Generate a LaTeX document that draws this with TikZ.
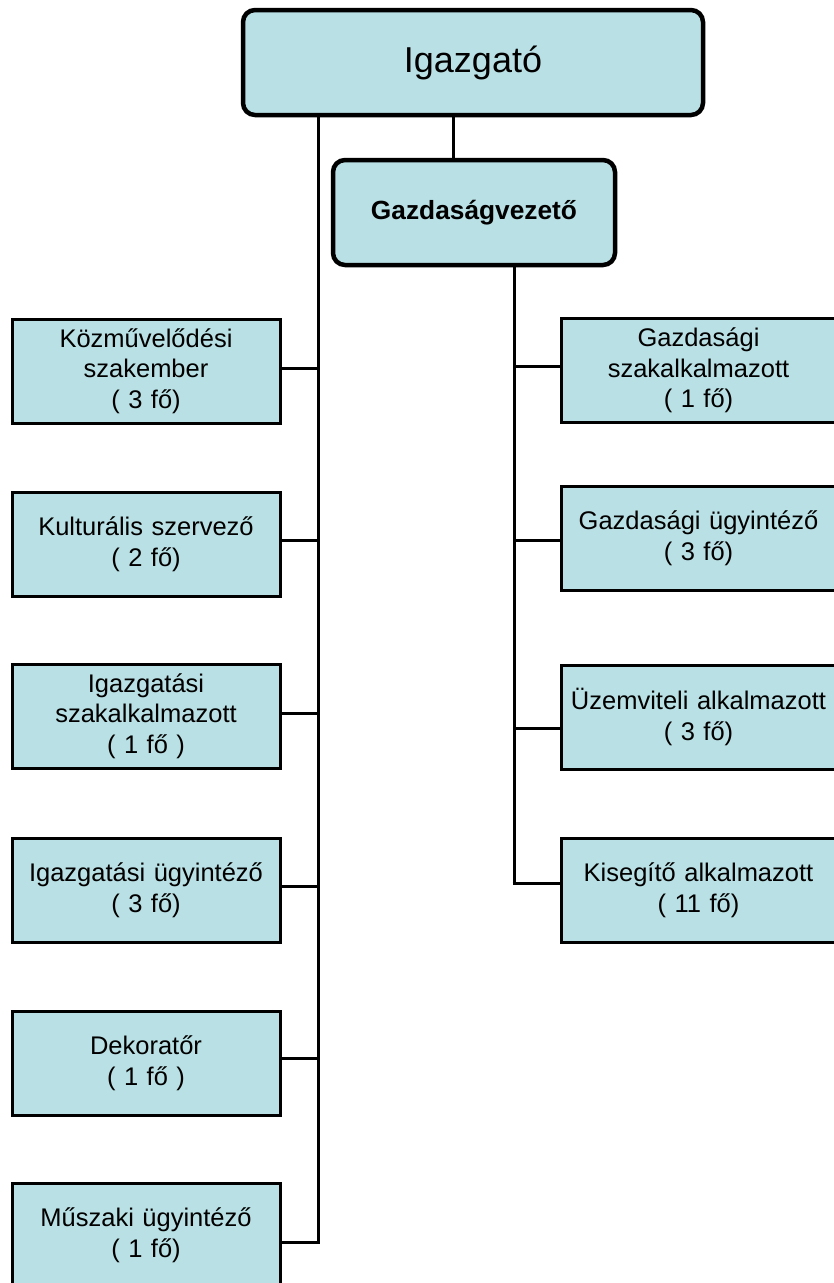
\documentclass[tikz,border=0pt]{standalone}
\usepackage{fontspec}
\setmainfont{Liberation Sans}
\definecolor{boxfill}{RGB}{185,224,228}
\begin{document}
\begin{tikzpicture}[x=1pt,y=-1pt,
  topbox/.style={draw=black,line width=4.5pt,fill=boxfill,rounded corners=12pt,inner sep=0pt},
  unitbox/.style={draw=black,line width=3pt,fill=boxfill,inner sep=0pt,
    minimum height=104pt,align=center,
    font=\fontsize{25.5}{30.7}\selectfont},
  leftbox/.style={unitbox,minimum width=268pt,text width=262pt},
  rightbox/.style={unitbox,minimum width=275pt,text width=262pt},
  link/.style={draw=black,line width=3pt}]
\useasboundingbox (0,0) rectangle (834,1283);
\clip (0,0) rectangle (834,1283);
\fill[white] (0,0) rectangle (834,1283);

% top
\node[topbox,minimum width=460pt,minimum height=105pt,font=\fontsize{36}{42}\selectfont] (dir) at (473,62.5) {Igazgató};
\node[topbox,minimum width=282pt,minimum height=105pt,font=\fontsize{26.3}{31}\selectfont\bfseries] (gv) at (474,212.5) {Gazdaságvezető};

% left boxes
\node[leftbox] (l1) at (146,371) {Közművelődési\\szakember\\( 3 fő)};
\node[leftbox] (l2) at (146,544.5) {Kulturális szervező\\( 2 fő)};
\node[leftbox] (l3) at (146,716) {Igazgatási\\szakalkalmazott\\( 1 fő )};
\node[leftbox] (l4) at (146,890.5) {Igazgatási ügyintéző\\( 3 fő)};
\node[leftbox] (l5) at (146,1063) {Dekoratőr\\( 1 fő )};
\node[leftbox] (l6) at (146,1235) {Műszaki ügyintéző\\( 1 fő)};

% right boxes
\node[rightbox] (r1) at (698.5,370.5) {Gazdasági\\szakalkalmazott\\( 1 fő)};
\node[rightbox] (r2) at (698.5,538) {Gazdasági ügyintéző\\( 3 fő)};
\node[rightbox] (r3) at (698.5,717) {Üzemviteli alkalmazott\\( 3 fő)};
\node[rightbox] (r4) at (698.5,890.5) {Kisegítő alkalmazott\\( 11 fő)};

% spine coordinates
\coordinate (s0) at (318,115);
\coordinate (s1) at (318,368);
\coordinate (s2) at (318,540);
\coordinate (s3) at (318,713);
\coordinate (s4) at (318,886);
\coordinate (s5) at (318,1058);
\coordinate (s6) at (318,1242);

\coordinate (t0) at (514,265);
\coordinate (t1) at (514,366);
\coordinate (t2) at (514,540);
\coordinate (t3) at (514,728);
\coordinate (t4) at (514,883);

% connectors
\draw[link] (dir.south -| s0) -- (s6);
\draw[link] (dir.south -| 453,0) -- (gv.north -| 453,0);
\draw[link] (gv.south -| t0) -- (t4);

\draw[link] (l1.east |- s1) -- (s1);
\draw[link] (l2.east |- s2) -- (s2);
\draw[link] (l3.east |- s3) -- (s3);
\draw[link] (l4.east |- s4) -- (s4);
\draw[link] (l5.east |- s5) -- (s5);
\draw[link] (l6.east |- s6) -- ([xshift=1.5pt]s6);

\draw[link] (t1) -- (r1.west |- t1);
\draw[link] (t2) -- (r2.west |- t2);
\draw[link] (t3) -- (r3.west |- t3);
\draw[link] ([xshift=-1.5pt]t4) -- (r4.west |- t4);
\end{tikzpicture}
\end{document}
